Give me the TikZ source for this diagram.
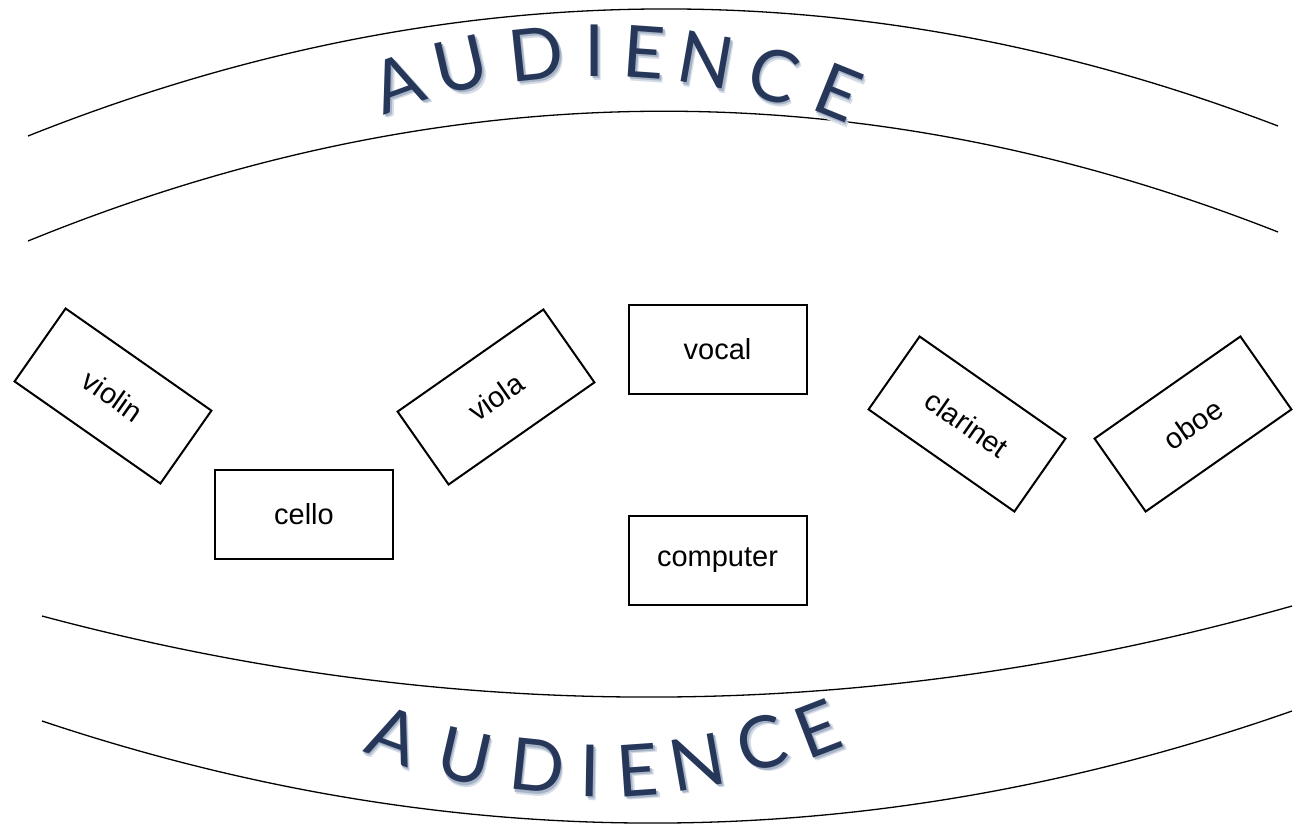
\documentclass[tikz,border=0pt]{standalone}
\usepackage{fontspec}
\setmainfont{Liberation Sans}
\newfontfamily\audfont{Lato}
\usetikzlibrary{calc}

\definecolor{ink}{HTML}{26375A}
\definecolor{shadeA}{HTML}{D5DCE6}
\definecolor{shadeB}{HTML}{A7B4C7}

% a capital with a soft drop shadow underneath
\newcommand\shadowcap[1]{%
  \makebox[0pt][l]{\kern3.0pt\raisebox{-4.0pt}{\textcolor{shadeA}{#1}}}%
  \makebox[0pt][l]{\kern1.6pt\raisebox{-2.2pt}{\textcolor{shadeB}{#1}}}%
  \textcolor{ink}{#1}}

\tikzset{
  seat/.style={draw=black, line width=2pt, minimum width=178pt,
    minimum height=89pt, inner sep=0pt, font=\fontsize{29}{32}\selectfont},
  row/.style={draw=black, line width=1.3pt},
  audcap/.style={inner sep=0pt, font=\audfont\fontsize{72}{74}\selectfont}
}

\begin{document}
\begin{tikzpicture}[x=1pt, y=-1pt]
\useasboundingbox (0,0) rectangle (1297,825);

% rows of seats, drawn as parabolic arcs (quadratic curves in cubic form)
\coordinate (r1a) at (28,136);   \coordinate (r1q) at (653,-113); \coordinate (r1b) at (1278,126);
\coordinate (r2a) at (28,241);   \coordinate (r2q) at (653,-14);  \coordinate (r2b) at (1278,232);
\coordinate (r3a) at (42,616);   \coordinate (r3q) at (667,783);  \coordinate (r3b) at (1292,606);
\coordinate (r4a) at (42,721);   \coordinate (r4q) at (667,930);  \coordinate (r4b) at (1292,711);
\foreach \r in {1,2,3,4}{
  \draw[row] (r\r a) .. controls ($(r\r a)!2/3!(r\r q)$) and ($(r\r b)!2/3!(r\r q)$) .. (r\r b);
}

% upper lettering, bowed upwards
\node[audcap, rotate=20]  (t1) at (398,85)  {\shadowcap{A}};
\node[audcap, rotate=13]  (t2) at (461,67)  {\shadowcap{U}};
\node[audcap, rotate=6]   (t3) at (536,56)  {\shadowcap{D}};
\node[audcap, rotate=0]   (t4) at (595,53)  {\shadowcap{I}};
\node[audcap, rotate=-4]  (t5) at (644,54)  {\shadowcap{E}};
\node[audcap, rotate=-10] (t6) at (706,62)  {\shadowcap{N}};
\node[audcap, rotate=-16] (t7) at (773,77)  {\shadowcap{C}};
\node[audcap, rotate=-22] (t8) at (838,94)  {\shadowcap{E}};

% lower lettering, bowed downwards
\node[audcap, rotate=-20] (b1) at (394,737) {\shadowcap{A}};
\node[audcap, rotate=-13] (b2) at (465,759) {\shadowcap{U}};
\node[audcap, rotate=-6]  (b3) at (537,768) {\shadowcap{D}};
\node[audcap, rotate=-1]  (b4) at (590,773) {\shadowcap{I}};
\node[audcap, rotate=4]   (b5) at (638,772) {\shadowcap{E}};
\node[audcap, rotate=10]  (b6) at (697,764) {\shadowcap{N}};
\node[audcap, rotate=16]  (b7) at (762,745) {\shadowcap{C}};
\node[audcap, rotate=21]  (b8) at (818,731) {\shadowcap{E}};

% instruments on stage
\node[seat, rotate=-35] (violin)   at (113,396)   {violin};
\node[seat]             (cello)    at (304,514)   {cello};
\node[seat, rotate=35]  (viola)    at (496,397)   {viola};
\node[seat]             (vocal)    at (717.5,349.5) {vocal};
\node[seat]             (computer) at (717.5,560) {computer};
\node[seat, rotate=-35] (clarinet) at (967,424)   {clarinet};
\node[seat, rotate=35]  (oboe)     at (1193,424)  {oboe};
\end{tikzpicture}
\end{document}
